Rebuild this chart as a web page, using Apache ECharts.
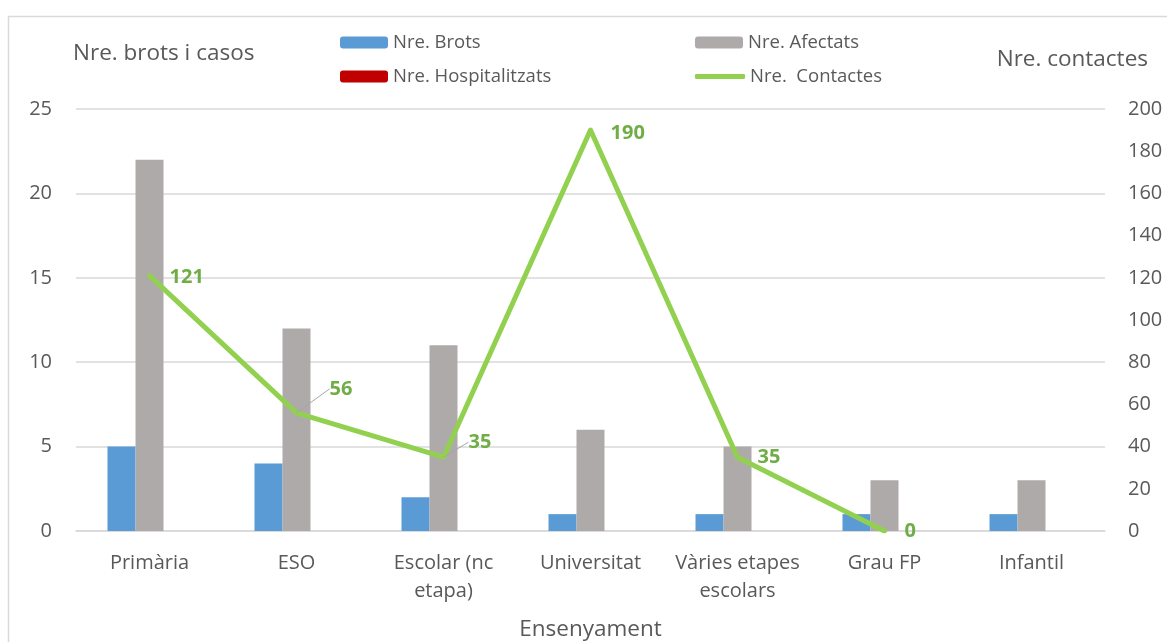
<!DOCTYPE html>
<html>
<head>
<meta charset="utf-8">
<script src="https://cdn.jsdelivr.net/npm/echarts@6/dist/echarts.min.js"></script>
<style>html,body{margin:0;padding:0;background:#fff;}#c{width:1167px;height:642px;}</style>
</head>
<body>
<div id="c"></div>
<script>
const categories = ['Primària', 'ESO', 'Escolar (nc etapa)', 'Universitat', 'Vàries etapes escolars', 'Grau FP', 'Infantil'];
const brots = [5, 4, 2, 1, 1, 1, 1];
const afectats = [22, 12, 11, 6, 5, 3, 3];
const hospitalitzats = [0, 0, 0, 0, 0, 0, 0];
const contactes = [121, 56, 35, 190, 35, 0, null];
const leftTicks = {min: 0, max: 25, interval: 5};
const rightTicks = {min: 0, max: 200, interval: 20};
const wrapped = {'Escolar (nc etapa)': 'Escolar (nc\netapa)', 'Vàries etapes escolars': 'Vàries etapes\nescolars'};

const FONT = 'Open Sans';
const TXT = '#595959';
const chart = echarts.init(document.getElementById('c'));
const legendText = {color: TXT, fontSize: 18.5, fontFamily: FONT};
function lg(name, left, top, extra) {
  return Object.assign({
    left: left, top: top, padding: 0, itemWidth: 48, itemHeight: 12, itemGap: 0,
    textStyle: legendText, data: [name], selectedMode: false
  }, extra || {});
}
chart.setOption({
  animation: false,
  textStyle: {fontFamily: FONT},
  grid: {left: 76, right: 62, top: 109, bottom: 111, containLabel: false, outerBoundsMode: 'none'},
  legend: [
    lg('Nre. Brots', 340, 33),
    lg('Nre. Afectats', 695, 33),
    lg('Nre. Hospitalitzats', 340, 67),
    lg('Nre.  Contactes', 695, 67, {itemWidth: 50, itemHeight: 5, data: [{name: 'Nre.  Contactes', icon: 'roundRect'}]})
  ],
  graphic: [
    {type: 'rect', z: -10, shape: {x: 8.5, y: 16.5, width: 1300, height: 800}, style: {fill: null, stroke: '#d9d9d9', lineWidth: 1.5}},
    {type: 'text', left: 73, top: 42, style: {text: 'Nre. brots i casos', fill: TXT, font: '22.5px "' + FONT + '"'}},
    {type: 'text', right: 19, top: 48, style: {text: 'Nre. contactes', fill: TXT, font: '22.5px "' + FONT + '"'}}
  ],
  xAxis: {
    type: 'category', data: categories,
    name: 'Ensenyament', nameLocation: 'middle', nameGap: 87,
    nameTextStyle: {color: TXT, fontSize: 22.5, fontFamily: FONT},
    axisLine: {lineStyle: {color: '#d9d9d9', width: 1.5}},
    axisTick: {show: false},
    axisLabel: {color: TXT, fontSize: 20, lineHeight: 28, margin: 18, interval: 0, fontFamily: FONT,
      formatter: function (v) { return wrapped[v] || v; }}
  },
  yAxis: [
    {
      type: 'value', min: leftTicks.min, max: leftTicks.max, interval: leftTicks.interval,
      axisLine: {show: false}, axisTick: {show: false},
      splitLine: {lineStyle: {color: '#d9d9d9', width: 1.5}},
      axisLabel: {color: TXT, fontSize: 20, margin: 24, fontFamily: FONT}
    },
    {
      type: 'value', min: rightTicks.min, max: rightTicks.max, interval: rightTicks.interval,
      axisLine: {show: false}, axisTick: {show: false}, splitLine: {show: false},
      axisLabel: {color: TXT, fontSize: 20, margin: 23, fontFamily: FONT}
    }
  ],
  series: [
    {name: 'Nre. Brots', type: 'bar', data: brots, barWidth: 28, barGap: '0%', itemStyle: {color: '#5b9bd5'}},
    {name: 'Nre. Afectats', type: 'bar', data: afectats, barWidth: 28, barGap: '0%', itemStyle: {color: '#aeaaaa'}},
    {name: 'Nre. Hospitalitzats', type: 'bar', data: hospitalitzats, barWidth: 28, barGap: '0%', itemStyle: {color: '#c00000'}},
    {
      name: 'Nre.  Contactes', type: 'line', yAxisIndex: 1,
      data: contactes.map(function (v, i) {
        return (i === 1 || i === 2) ? {value: v, labelLine: {show: true}} : v;
      }),
      symbol: 'circle', symbolSize: 0.1, connectNulls: false,
      lineStyle: {color: '#92d050', width: 5, cap: 'round', join: 'round'},
      itemStyle: {color: '#92d050'},
      z: 5,
      label: {show: true, position: 'right', distance: 20, color: '#70ad47', fontWeight: 'bold', fontSize: 20, fontFamily: FONT},
      labelLine: {show: false, lineStyle: {color: '#a6a6a6', width: 1}},
      labelLayout: function (p) {
        if (p.dataIndex === 0) return {dy: 2};
        if (p.dataIndex === 1) return {dx: 13, dy: -24};
        if (p.dataIndex === 2) return {dx: 5, dy: -15};
        if (p.dataIndex === 3) return {dy: 3};
        return {};
      }
    }
  ]
});
</script>
</body>
</html>
